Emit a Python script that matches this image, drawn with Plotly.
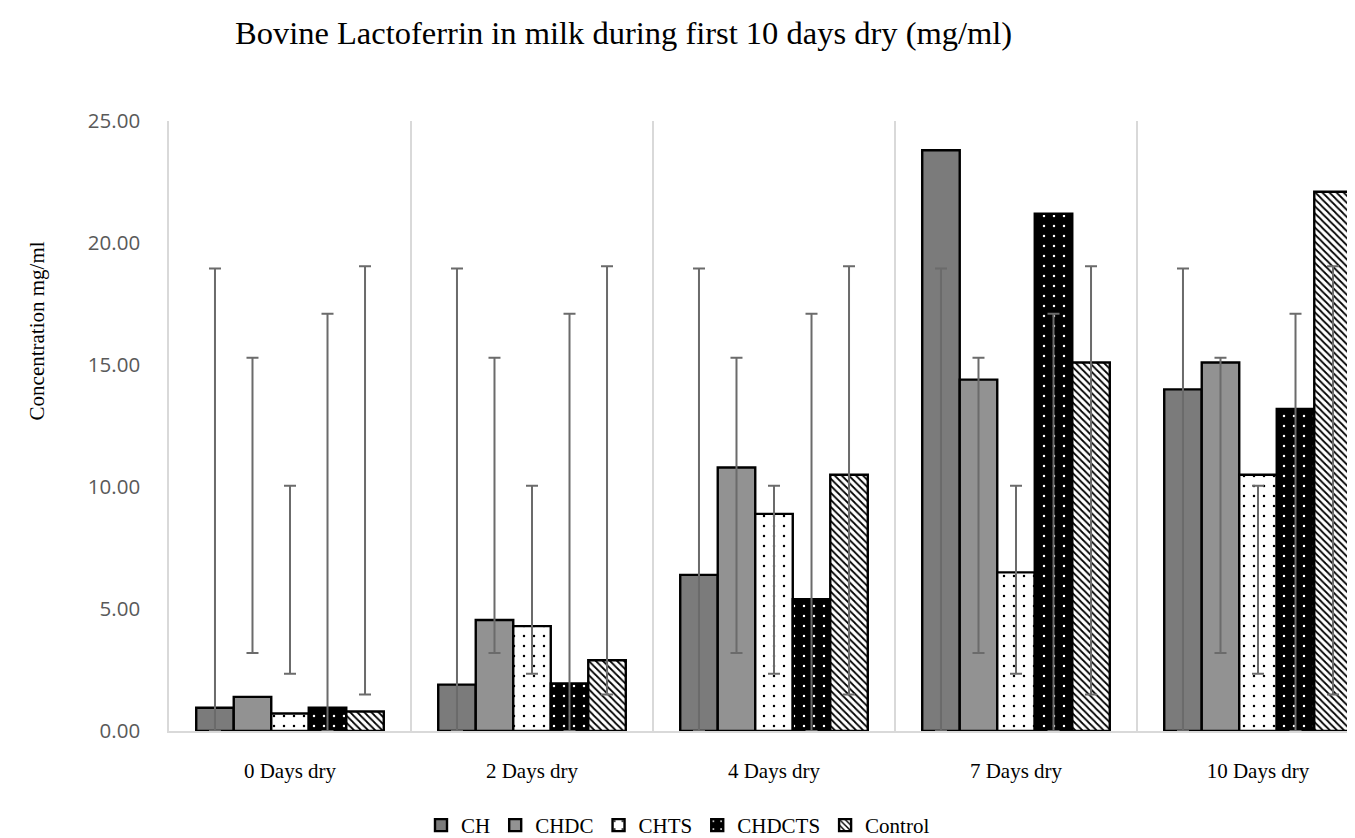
"""Bovine lactoferrin in milk during the first 10 days dry - grouped bar chart."""

import plotly.graph_objects as go

DAYS = ["0 Days dry", "2 Days dry", "4 Days dry", "7 Days dry", "10 Days dry"]

CH = [0.95, 1.90, 6.40, 23.80, 14.00]
CHDC = [1.40, 4.55, 10.80, 14.40, 15.10]
CHTS = [0.72, 4.30, 8.90, 6.50, 10.50]
CHDCTS = [0.95, 1.95, 5.40, 21.20, 13.20]
CONTROL = [0.80, 2.90, 10.50, 15.10, 22.10]

# error bar ends (same custom range in every group, as in the source sheet)
CH_ERR_HI = [18.95] * 5
CH_ERR_LO = [0.0] * 5
CHDC_ERR_HI = [15.30] * 5
CHDC_ERR_LO = [3.20] * 5
CHTS_ERR_HI = [10.05] * 5
CHTS_ERR_LO = [2.35] * 5
CHDCTS_ERR_HI = [17.10] * 5
CHDCTS_ERR_LO = [0.0] * 5
CONTROL_ERR_HI = [19.05] * 5
CONTROL_ERR_LO = [1.50] * 5

SERIF = "Liberation Serif, Times New Roman, serif"
W, H = 1355, 838
L, R, T, B = 161, 0, 113, 113
GRID = "#d9d9d9"


def _err(vals, hi, lo):
    return dict(
        type="data", symmetric=False,
        array=[h - v for v, h in zip(vals, hi)],
        arrayminus=[v - l for v, l in zip(vals, lo)],
        color="#6b6b6b", thickness=2, width=6,
    )


series = [
    ("CH", CH, CH_ERR_HI, CH_ERR_LO,
     dict(color="#7b7b7b")),
    ("CHDC", CHDC, CHDC_ERR_HI, CHDC_ERR_LO,
     dict(color="#929292")),
    ("CHTS", CHTS, CHTS_ERR_HI, CHTS_ERR_LO,
     dict(color="white", pattern=dict(shape=".", fgcolor="black",
                                      bgcolor="white", size=10,
                                      solidity=0.05, fillmode="replace"))),
    ("CHDCTS", CHDCTS, CHDCTS_ERR_HI, CHDCTS_ERR_LO,
     dict(color="black", pattern=dict(shape=".", fgcolor="white",
                                      bgcolor="black", size=10,
                                      solidity=0.05, fillmode="replace"))),
    ("Control", CONTROL, CONTROL_ERR_HI, CONTROL_ERR_LO,
     dict(color="white", pattern=dict(shape="\\", fgcolor="black",
                                      bgcolor="white", size=5,
                                      solidity=0.35, fillmode="replace"))),
]

fig = go.Figure()
for name, vals, hi, lo, marker in series:
    marker = dict(marker, line=dict(color="black", width=2.4))
    fig.add_trace(go.Bar(
        name=name, x=DAYS, y=vals, marker=marker,
        error_y=_err(vals, hi, lo),
    ))

plot_w = W - L - R
fig.update_layout(
    width=W, height=H,
    margin=dict(l=L, r=R, t=T, b=B),
    barmode="group", bargap=0.225, bargroupgap=0,
    plot_bgcolor="white", paper_bgcolor="white",
    font=dict(family=SERIF, size=21, color="black"),
    title=dict(
        text="Bovine Lactoferrin in milk during first 10 days dry (mg/ml)",
        font=dict(family=SERIF, size=32.5, color="black"),
        xref="container", x=227 / W, xanchor="left",
        yref="container", y=1 - 25 / H, yanchor="middle",
    ),
    xaxis=dict(
        type="category", tickson="boundaries",
        range=[-0.5, 4.5 - 16 / 242],
        showgrid=True, gridcolor=GRID, gridwidth=1.5,
        showline=True, linecolor=GRID, linewidth=1.5,
        ticks="", ticklabelstandoff=20,
        tickfont=dict(family=SERIF, size=21, color="black"),
    ),
    yaxis=dict(
        range=[0, 25], dtick=5, tickformat=".2f",
        showgrid=False, zeroline=False,
        showline=True, linecolor=GRID, linewidth=1.5,
        ticks="", ticklabelstandoff=23,
        tickfont=dict(family="Open Sans, sans-serif", size=20.5,
                      color="#595959"),
    ),
    legend=dict(
        orientation="h", xref="paper", x=(670 - L) / plot_w, xanchor="center",
        y=-0.155, yanchor="middle",
        font=dict(family=SERIF, size=21, color="black"),
        itemwidth=30,
    ),
    showlegend=True,
)

fig.add_annotation(
    text="Concentration mg/ml", textangle=-90,
    xref="paper", x=(29 - L) / plot_w, xanchor="center",
    yref="paper", y=0.655, yanchor="middle",
    showarrow=False, font=dict(family=SERIF, size=21, color="black"),
)

fig.write_html("out.html")
